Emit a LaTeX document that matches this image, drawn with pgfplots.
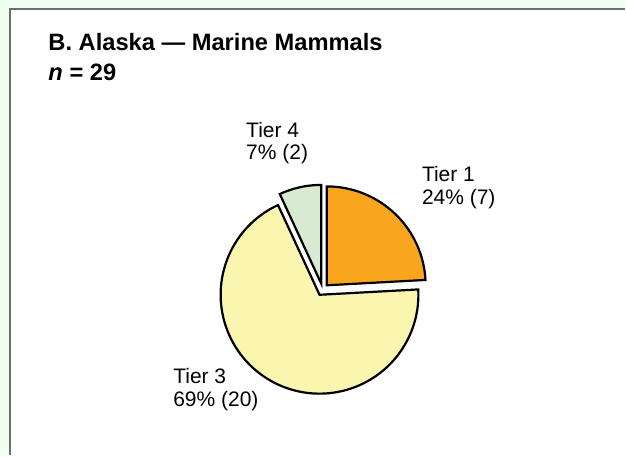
\documentclass[border=0pt]{standalone}
\usepackage{pgfplots}
\pgfplotsset{compat=1.18}
\usepackage{fontspec}
\setmainfont{Liberation Sans}
\definecolor{bgmint}{RGB}{240,255,240}
\definecolor{tierone}{RGB}{249,166,30}
\definecolor{tierthree}{RGB}{250,245,175}
\definecolor{tierfour}{RGB}{216,234,210}
\definecolor{framegray}{RGB}{110,110,110}
\begin{document}
\begin{tikzpicture}
\def\cx{323}\def\cy{166}\def\r{99}\def\ex{6}
% data: Tier 1 = 7, Tier 3 = 20, Tier 4 = 2
\def\vA{7}\def\vC{20}\def\vD{2}
\pgfmathsetmacro\tot{\vA+\vC+\vD}
\pgfmathsetmacro\aA{90}
\pgfmathsetmacro\bA{90-\vA/\tot*360}
\pgfmathsetmacro\bC{\bA-\vC/\tot*360}
\pgfmathsetmacro\bD{\bC-\vD/\tot*360}
\pgfmathsetmacro\mA{(\aA+\bA)/2}
\pgfmathsetmacro\mC{(\bA+\bC)/2}
\pgfmathsetmacro\mD{(\bC+\bD)/2}
\begin{axis}[scale only axis, width=626pt, height=456pt,
  xmin=0, xmax=626, ymin=0, ymax=456, hide axis, clip=false]
\fill[bgmint] (0,0) rectangle (626,456);
\fill[white] (10,0) rectangle (626,447);
\draw[framegray, line width=1.5pt] (10,0) -- (10,447) -- (626,447);
\addplot[draw=black, fill=tierone, line width=2.2pt, line join=miter, domain=\bA:\aA, samples=60, variable=\t]
  ({\cx+\ex*cos(\mA)+\r*cos(\t)},{\cy+\ex*sin(\mA)+\r*sin(\t)}) -- ({\cx+\ex*cos(\mA)},{\cy+\ex*sin(\mA)}) -- cycle;
\addplot[draw=black, fill=tierthree, line width=2.2pt, line join=miter, domain=\bC:\bA, samples=120, variable=\t]
  ({\cx+\ex*cos(\mC)+\r*cos(\t)},{\cy+\ex*sin(\mC)+\r*sin(\t)}) -- ({\cx+\ex*cos(\mC)},{\cy+\ex*sin(\mC)}) -- cycle;
\addplot[draw=black, fill=tierfour, line width=2.2pt, line join=miter, domain=\bD:\bC, samples=30, variable=\t]
  ({\cx+\ex*cos(\mD)+\r*cos(\t)},{\cy+\ex*sin(\mD)+\r*sin(\t)}) -- ({\cx+\ex*cos(\mD)},{\cy+\ex*sin(\mD)}) -- cycle;
\node[anchor=base west, font=\fontsize{23.7}{28}\selectfont\bfseries] at (45,405) {B. Alaska — Marine Mammals};
\node[anchor=base west, font=\fontsize{23.7}{28}\selectfont\bfseries] at (45,375.5) {\textit{n} = 29};
\node[anchor=base west, font=\fontsize{21}{23}\selectfont] at (243,318.7) {Tier 4};
\node[anchor=base west, font=\fontsize{21}{23}\selectfont] at (243,296) {7\% (2)};
\node[anchor=base west, font=\fontsize{21}{23}\selectfont] at (419,274.3) {Tier 1};
\node[anchor=base west, font=\fontsize{21}{23}\selectfont] at (419,251.5) {24\% (7)};
\node[anchor=base west, font=\fontsize{21}{23}\selectfont] at (170,72) {Tier 3};
\node[anchor=base west, font=\fontsize{21}{23}\selectfont] at (170,49.3) {69\% (20)};
\end{axis}
\end{tikzpicture}
\end{document}
